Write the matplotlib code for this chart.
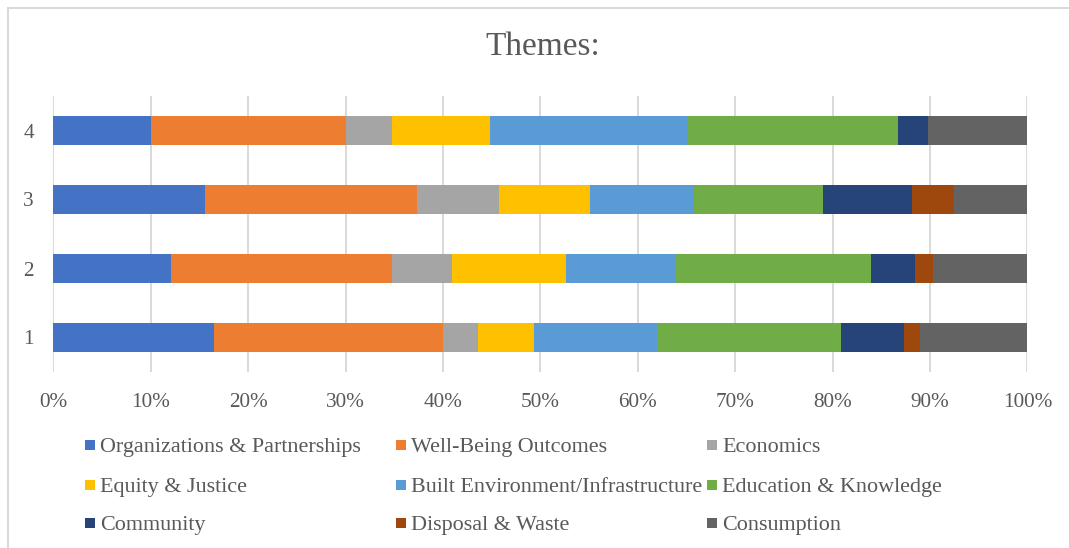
import matplotlib
matplotlib.use("Agg")
import matplotlib.pyplot as plt
from matplotlib.patches import Rectangle
from matplotlib.lines import Line2D
import numpy as np

# Survey groups (bottom to top)
groups = ["1", "2", "3", "4"]

themes = [
    "Organizations & Partnerships",
    "Well-Being Outcomes",
    "Economics",
    "Equity & Justice",
    "Built Environment/Infrastructure",
    "Education & Knowledge",
    "Community",
    "Disposal & Waste",
    "Consumption",
]

# Share of each theme (%) for groups 1..4
organizations = [16.5, 12.1, 15.6, 10.0]
well_being = [23.5, 22.7, 21.8, 20.0]
economics = [3.6, 6.1, 8.4, 4.8]
equity = [5.8, 11.7, 9.4, 10.0]
built_env = [12.7, 11.3, 10.6, 20.3]
education = [18.8, 20.1, 13.3, 21.6]
community = [6.4, 4.5, 9.1, 3.1]
disposal = [1.7, 1.8, 4.4, 0.0]
consumption = [11.0, 9.7, 7.5, 10.2]

series = [organizations, well_being, economics, equity, built_env,
          education, community, disposal, consumption]

colors = ["#4472C4", "#ED7D31", "#A5A5A5", "#FFC000", "#5B9BD5",
          "#70AD47", "#264478", "#9E480E", "#636363"]

xticks = [0, 10, 20, 30, 40, 50, 60, 70, 80, 90, 100]

plt.rcParams["font.family"] = ["Liberation Serif", "DejaVu Serif"]
TEXT = "#595959"
GRID = "#D9D9D9"

W, H = 1069, 548
fig = plt.figure(figsize=(W / 100, H / 100), dpi=100)
fig.patch.set_facecolor("white")

ax = fig.add_axes([53.3 / W, 1 - 372 / H, 974 / W, 276 / H])

ypos = np.arange(len(groups))
data = np.array(series, dtype=float)
# 100% stacked: scale each group to its total
data = data / data.sum(axis=0) * 100.0
left = np.zeros(len(groups))
for vals, col, name in zip(data, colors, themes):
    ax.barh(ypos, vals, left=left, height=0.406, color=col, label=name,
            edgecolor="none", zorder=3)
    left += vals

ax.set_xlim(0, 100)
ax.set_ylim(-0.5, len(groups) - 0.5)
ax.set_xticks(xticks)
ax.set_xticklabels([f"{t}%" for t in xticks])
ax.set_yticks(ypos)
ax.set_yticklabels(groups)
ax.tick_params(axis="both", length=0, labelsize=15.3, colors=TEXT)
ax.tick_params(axis="x", pad=15)
ax.tick_params(axis="y", pad=14)
ax.grid(axis="x", color=GRID, linewidth=1.4, zorder=0)
ax.grid(axis="y", visible=False)
for s in ax.spines.values():
    s.set_visible(False)
ax.set_facecolor("white")

fig.text(543 / W, 1 - 47 / H, "Themes:", ha="center", va="center",
         fontsize=24, color=TEXT)

# Legend laid out in three evenly spaced columns
col_x = [84.5, 395.5, 706.5]
row_y = [445, 485, 523]
for i, (name, col) in enumerate(zip(themes, colors)):
    r, c = divmod(i, 3)
    x0 = col_x[c]
    yc = row_y[r]
    fig.add_artist(Rectangle((x0 / W, 1 - (yc + 5) / H), 10 / W, 10 / H,
                             transform=fig.transFigure, facecolor=col,
                             edgecolor="none"))
    fig.text((x0 + 15.5) / W, 1 - yc / H, name, ha="left",
             va="center_baseline", fontsize=15.9, color=TEXT)

# Chart frame (top and left edges)
fig.add_artist(Line2D([7.5 / W, 1.0], [1 - 7.5 / H, 1 - 7.5 / H],
                      transform=fig.transFigure, color=GRID, linewidth=1.4))
fig.add_artist(Line2D([7.5 / W, 7.5 / W], [0.0, 1 - 7.5 / H],
                      transform=fig.transFigure, color=GRID, linewidth=1.4))

fig.savefig("out.png", dpi=100, facecolor="white")
